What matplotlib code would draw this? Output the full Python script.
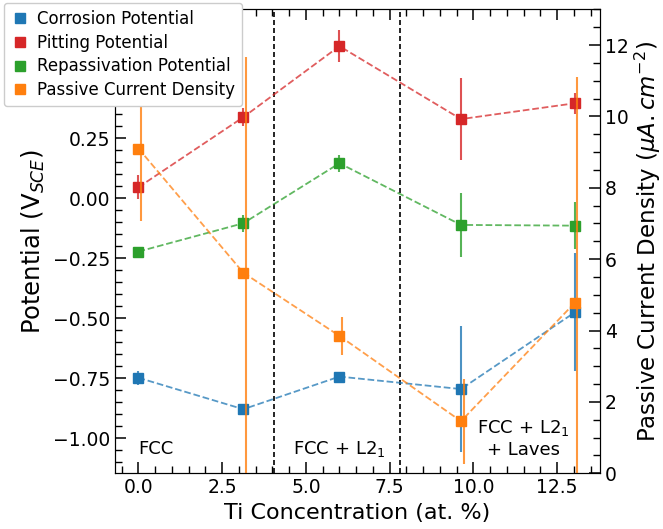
import matplotlib
matplotlib.use("Agg")
from matplotlib import pyplot as plt
from matplotlib.ticker import (AutoMinorLocator, MultipleLocator,
                               FormatStrFormatter, FuncFormatter)

# Ti content of each alloy (at. %)
ti = [0.0, 3.13, 6.0, 9.63, 13.03]

# potentials (V vs SCE) and their standard deviations
e_corr = [-0.748, -0.879, -0.743, -0.795, -0.475]
e_corr_err = [0.028, 0.01, 0.01, 0.262, 0.245]
e_pit = [0.046, 0.338, 0.634, 0.330, 0.396]
e_pit_err = [0.05, 0.038, 0.068, 0.172, 0.043]
e_rp = [-0.222, -0.104, 0.146, -0.111, -0.114]
e_rp_err = [0.0, 0.035, 0.035, 0.132, 0.097]

# passive current density (uA/cm^2)
i_pass = [9.10, 5.62, 3.85, 1.46, 4.78]
i_pass_err = [2.04, 6.05, 0.53, 1.19, 6.32]

# phase boundaries and labels
boundaries = [4.05, 7.8]
phases = ["FCC", "FCC + L2$_1$", "FCC + L2$_1$\n+ Laves"]
phase_x = [0.0, 6.0, 11.5]
phase_y = [-1.045, -1.045, -1.0]

fig = plt.figure(figsize=(6.63, 5.29), dpi=100)
ax = fig.add_axes([0.1735, 0.1053, 0.9050 - 0.1735, 0.9824 - 0.1053])
ax2 = ax.twinx()


def series(axis, y, yerr, color, label, dx=0.0):
    axis.plot(ti, y, '--', color=color, lw=1.3, alpha=0.75, zorder=2)
    axis.errorbar([t + dx for t in ti], y, yerr=yerr, fmt='none',
                  ecolor=color, elinewidth=1.5, alpha=0.8, zorder=2)
    h, = axis.plot(ti, y, 's', color=color, ms=7, zorder=3, label=label)
    return h


handles = [
    series(ax, e_corr, e_corr_err, 'tab:blue', 'Corrosion Potential'),
    series(ax, e_pit, e_pit_err, 'tab:red', 'Pitting Potential'),
    series(ax, e_rp, e_rp_err, 'tab:green', 'Repassivation Potential'),
    series(ax2, i_pass, i_pass_err, 'tab:orange', 'Passive Current Density',
           dx=0.075),
]

for b in boundaries:
    ax.axvline(b, color='black', lw=1.2, linestyle=(0, (3, 1.8)), zorder=1)

for name, px, py in zip(phases, phase_x, phase_y):
    ha = 'left' if px == 0.0 else 'center'
    ax.text(px, py, name, ha=ha, va='center', multialignment='center',
            fontsize=13)

ax.set_xlim(-0.7, 13.78)
ax.set_ylim(-1.146, 0.7875)
ax2.set_ylim(0, 13)

ax.xaxis.set_major_locator(MultipleLocator(2.5))
ax.xaxis.set_major_formatter(FormatStrFormatter('%.1f'))
# labels above 0.25 sit under the legend box
ax.yaxis.set_major_formatter(
    FuncFormatter(lambda v, pos: '' if v > 0.3 else f'{v:.2f}'.replace('-', '\u2212')))

ax.set_xlabel('Ti Concentration (at. %)', fontsize=16)
ax.set_ylabel(r'Potential (V$_{SCE}$)', fontsize=17.5)
ax2.set_ylabel(r'Passive Current Density ($\mu A.cm^{-2}$)', fontsize=16.5,
               labelpad=3)

for a in (ax, ax2):
    a.xaxis.set_minor_locator(AutoMinorLocator())
    a.yaxis.set_minor_locator(AutoMinorLocator())
    a.tick_params(which='both', direction='in', labelsize=13.5)
    a.tick_params(which='major', length=8, width=1.1)
    a.tick_params(which='minor', length=5, width=1.0)
ax.tick_params(which='both', top=True, right=False)

fig.legend(handles=handles, loc='upper left',
           bbox_to_anchor=(4 / 663, 1 - 3 / 529), bbox_transform=fig.transFigure,
           borderaxespad=0, fontsize=12, handlelength=1.1, handletextpad=0.5,
           labelspacing=0.35, framealpha=1.0)

fig.savefig('out.png', dpi=100)
